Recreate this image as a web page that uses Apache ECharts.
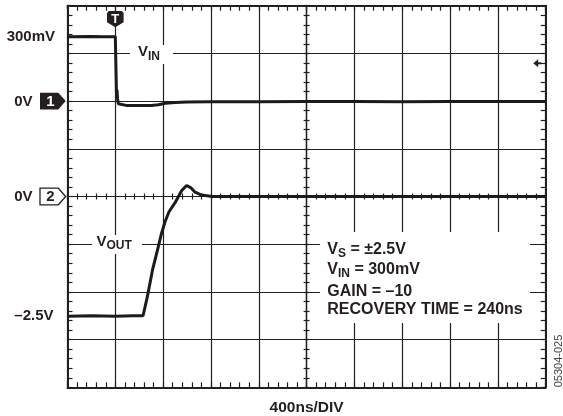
<!DOCTYPE html>
<html><head><meta charset="utf-8">
<script src="https://cdn.jsdelivr.net/npm/echarts@6/dist/echarts.min.js"></script>
<style>html,body{margin:0;padding:0;background:#fff}#c{width:563px;height:416px}</style>
</head><body><div id="c"></div>
<script>
// ---- scope settings ----
const X_MIN = -2000, X_MAX = 2000, X_DIV = 400;   // ns, relative to screen centre
const Y_MIN = -4, Y_MAX = 4, Y_DIV = 1;           // divisions
const CH1_MV_PER_DIV = 222, CH1_OFFSET_DIV = 2;
const CH2_V_PER_DIV = 1, CH2_OFFSET_DIV = 0;
const TRIGGER_TIME = -1600;       // ns
const TRIGGER_LEVEL_MV = 176;     // ch1

// ---- channel 1 (V_IN), mV ----
const vinTime = [-2000, -1800, -1700, -1600, -1594, -1590, -1586, -1581, -1575, -1565, -1500, -1400, -1300, -1240, -1180, -1100, -1000, -800, -400, 0, 400, 800, 1200, 1600, 2000];
const vinMv   = [300, 301, 300, 300, 298, 30, 52, 10, -12, -20, -21, -21, -20, -17, -10, -6, -4, -3, -3, -2, -2, -3, -2, -2, -2];

// ---- channel 2 (V_OUT), V ----
const voutTime = [-2000, -1800, -1600, -1450, -1368, -1331, -1289, -1247, -1213, -1184, -1151, -1100, -1046, -1004, -966, -933, -879, -791, -600, -200, 200, 600, 1000, 1400, 2000];
const voutV    = [-2.51, -2.5, -2.51, -2.5, -2.5, -2.09, -1.54, -1.12, -0.77, -0.53, -0.32, -0.13, 0.12, 0.23, 0.18, 0.09, 0.03, 0.0, 0.0, 0, 0, 0, 0, 0, 0];

// ---- channel reference labels ----
const ch1LabelMv = [300, 0];
const ch1LabelText = ['300mV', '0V'];
const ch2LabelV = [0, -2.5];
const ch2LabelText = ['0V', '–2.5V'];

const INK = '#231f20';
const FONT = '"Liberation Sans", Arial, sans-serif';

const ch1Div = mv => CH1_OFFSET_DIV + mv / CH1_MV_PER_DIV;
const ch2Div = v => CH2_OFFSET_DIV + v / CH2_V_PER_DIV;

// marker list (computed from the arrays above)
const markers = [];
ch1LabelMv.forEach((mv, i) => markers.push({kind: mv === 0 ? 'zero' : 'label', ch: 1, x: X_MIN, y: ch1Div(mv), text: ch1LabelText[i]}));
ch2LabelV.forEach((v, i) => markers.push({kind: v === 0 ? 'zero' : 'label', ch: 2, x: X_MIN, y: ch2Div(v), text: ch2LabelText[i]}));
markers.push({kind: 'trig', x: TRIGGER_TIME, y: Y_MAX});
markers.push({kind: 'level', x: X_MAX, y: ch1Div(TRIGGER_LEVEL_MV)});

function renderMarker(params, api) {
  const m = markers[params.dataIndex];
  const p = api.coord([api.value(0), api.value(1)]);
  const font = 'bold 15px ' + FONT;
  if (m.kind === 'label') {
    const dx = m.ch === 1 ? -12.5 : -14;
    return {type: 'text', x: p[0] + dx, y: p[1] + 0.5, style: {text: m.text, font: font, fill: INK, align: 'right', verticalAlign: 'middle'}};
  }
  if (m.kind === 'zero') {
    const x0 = p[0] - 27.5, x1 = p[0] - 9.2, xt = p[0] - 1.8, h = 8.3, y = p[1];
    const filled = m.ch === 1;
    return {type: 'group', children: [
      {type: 'polygon', shape: {points: [[x0, y - h], [x1, y - h], [xt, y], [x1, y + h], [x0, y + h]]},
        style: {fill: filled ? INK : '#fff', stroke: INK, lineWidth: filled ? 0 : 1.3}},
      {type: 'text', x: p[0] - 17, y: y + 0.5, style: {text: String(m.ch), font: font, fill: filled ? '#fff' : INK, align: 'center', verticalAlign: 'middle'}},
      {type: 'text', x: p[0] - 35, y: y + 0.5, style: {text: m.text, font: font, fill: INK, align: 'right', verticalAlign: 'middle'}}
    ]};
  }
  if (m.kind === 'trig') {
    const x = p[0], y = p[1];
    return {type: 'group', children: [
      {type: 'polygon', shape: {points: [[x - 6.5, y + 5.3], [x + 6.5, y + 5.3], [x + 8.3, y + 7.3], [x + 8.3, y + 16.5], [x, y + 21.6], [x - 8.3, y + 16.5], [x - 8.3, y + 7.3]]},
        style: {fill: INK}},
      {type: 'text', x: x, y: y + 13.5, style: {text: 'T', font: 'bold 13px ' + FONT, fill: '#fff', align: 'center', verticalAlign: 'middle'}}
    ]};
  }
  if (m.kind === 'level') {
    const x = p[0], y = p[1];
    return {type: 'group', children: [
      {type: 'polygon', shape: {points: [[x - 12.4, y], [x - 7.5, y - 4], [x - 7.5, y + 4]]}, style: {fill: INK}},
      {type: 'line', shape: {x1: x - 8, y1: y, x2: x - 4.5, y2: y}, style: {stroke: INK, lineWidth: 2}}
    ]};
  }
}

function borderAxis(pos, extra) {
  return Object.assign({
    type: 'value', position: pos, z: 0,
    axisLine: {show: true, onZero: false, lineStyle: {color: INK, width: 2}},
    axisTick: {show: true, inside: true, length: 5, lineStyle: {color: INK, width: 1.2}},
    minorTick: {show: true, splitNumber: 5, length: 5, lineStyle: {color: INK, width: 1.2}},
    axisLabel: {show: false},
    splitLine: {show: false}
  }, extra);
}
function centreAxis(pos, inside, extra) {
  return Object.assign({
    type: 'value', position: pos, z: 0,
    axisLine: {show: true, onZero: true, onZeroAxisIndex: 0, lineStyle: {color: INK, width: 1.2}},
    axisTick: {show: true, inside: inside, length: 3, lineStyle: {color: INK, width: 1.2}},
    minorTick: {show: true, splitNumber: 5, length: 3, lineStyle: {color: INK, width: 1.2}},
    axisLabel: {show: false},
    splitLine: {show: false}
  }, extra);
}
const xr = {min: X_MIN, max: X_MAX, interval: X_DIV};
const yr = {min: Y_MIN, max: Y_MAX, interval: Y_DIV};

const chart = echarts.init(document.getElementById('c'), null, {renderer: 'canvas'});

function richSub(main, sub, rest) {
  return '{m|' + main + '}{s|' + sub + '}' + (rest ? '{m|' + rest + '}' : '');
}
const richStyles = size => ({
  m: {font: 'bold ' + size + 'px ' + FONT, fill: INK, color: INK},
  s: {font: 'bold 12px ' + FONT, fill: INK, color: INK, padding: [9, 0, 0, 0]}
});
const Z = 20;

chart.setOption({
  animation: false,
  backgroundColor: '#fff',
  grid: {left: 67.5, top: 5.7, width: 478.2, height: 381.6, containLabel: false, outerBoundsMode: 'none'},
  xAxis: [
    borderAxis('bottom', Object.assign({splitLine: {show: true, lineStyle: {color: INK, width: 1.2}},
      name: '400ns/DIV', nameLocation: 'middle', nameGap: 12,
      nameTextStyle: {fontFamily: FONT, fontWeight: 'bold', fontSize: 15.5, color: INK, verticalAlign: 'top'}}, xr)),
    borderAxis('top', xr),
    centreAxis('bottom', false, xr),
    centreAxis('bottom', true, xr)
  ],
  yAxis: [
    borderAxis('left', Object.assign({splitLine: {show: true, lineStyle: {color: INK, width: 1.2}}}, yr)),
    borderAxis('right', yr),
    centreAxis('left', false, yr),
    centreAxis('left', true, yr)
  ],
  series: [
    {type: 'line', name: 'VIN', z: 30, symbol: 'none', xAxisIndex: 0, yAxisIndex: 0,
      lineStyle: {color: '#1b1b1b', width: 3}, data: vinTime.map((t, i) => [t, ch1Div(vinMv[i])])},
    {type: 'line', name: 'VOUT', z: 30, symbol: 'none', xAxisIndex: 0, yAxisIndex: 0,
      lineStyle: {color: '#1b1b1b', width: 3}, data: voutTime.map((t, i) => [t, ch2Div(voutV[i])])},
    {type: 'custom', name: 'markers', z: 32, clip: false, xAxisIndex: 0, yAxisIndex: 0,
      renderItem: renderMarker, data: markers.map(m => [m.x, m.y]), encode: {x: 0, y: 1}}
  ],
  graphic: {elements: [
    {type: 'rect', z: Z, shape: {x: 130, y: 45, width: 43, height: 19}, style: {fill: '#fff'}},
    {type: 'text', z: Z + 1, x: 138, y: 41.5, style: {text: richSub('V', 'IN', ''), rich: richStyles(15), verticalAlign: 'top'}},
    {type: 'rect', z: Z, shape: {x: 92, y: 235, width: 50, height: 19}, style: {fill: '#fff'}},
    {type: 'text', z: Z + 1, x: 96.5, y: 231, style: {text: richSub('V', 'OUT', ''), rich: richStyles(15), verticalAlign: 'top'}},
    {type: 'rect', z: Z, shape: {x: 320, y: 232, width: 210, height: 91}, style: {fill: '#fff'}},
    {type: 'text', z: Z + 1, x: 327.3, y: 239, style: {text: richSub('V', 'S', ' = ±2.5V'), rich: richStyles(16), verticalAlign: 'top'}},
    {type: 'text', z: Z + 1, x: 327.3, y: 259, style: {text: richSub('V', 'IN', ' = 300mV'), rich: richStyles(16), verticalAlign: 'top'}},
    {type: 'text', z: Z + 1, x: 327.3, y: 283.5, style: {text: 'GAIN = –10', font: 'bold 16px ' + FONT, fill: INK, verticalAlign: 'top'}},
    {type: 'text', z: Z + 1, x: 327.3, y: 302, style: {text: 'RECOVERY TIME = 240ns', font: 'bold 16px ' + FONT, fill: INK, verticalAlign: 'top'}},
    {type: 'text', z: Z, x: 559, y: 361, rotation: Math.PI / 2,
      style: {text: '05304-025', font: '11px ' + FONT, fill: '#444', align: 'center', verticalAlign: 'middle'}}
  ]}
});
</script></body></html>
